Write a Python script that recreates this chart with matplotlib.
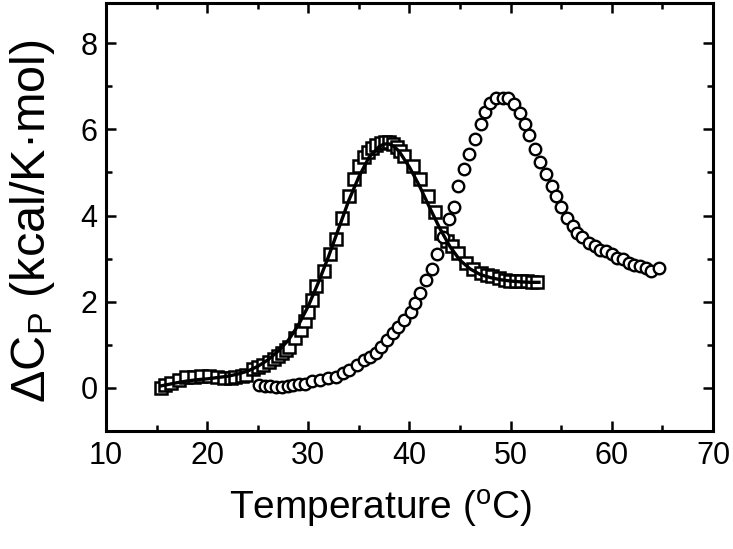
import matplotlib
matplotlib.use("Agg")
import matplotlib.pyplot as plt
from matplotlib.ticker import MultipleLocator

plt.rcParams['font.family'] = ['Liberation Sans', 'DejaVu Sans']
plt.rcParams['mathtext.fontset'] = 'custom'
plt.rcParams['mathtext.rm'] = 'Liberation Sans'
plt.rcParams['mathtext.it'] = 'Liberation Sans:italic'

# Squares (data set 1)
sq_T = [15.45, 15.8, 16.4, 17.2, 17.9, 18.7, 19.4, 20.2, 21.0, 21.7, 22.4, 22.8, 23.4, 23.8,
        24.5, 25.0, 25.5, 26.1, 26.6, 27.0, 27.4, 27.8, 28.1, 28.7, 29.3, 29.7, 30.0, 30.4,
        30.8, 31.55, 32.1, 32.7, 33.3, 34.0, 34.5, 35.0, 35.5, 35.9, 36.3, 36.7, 37.2,
        37.6, 38.0, 38.4, 38.75, 39.1, 39.5, 40.3, 41.0, 41.8, 42.5, 43.1, 43.7, 44.2,
        44.8, 45.6, 46.3, 47.1, 47.7, 48.2, 48.8, 49.4, 49.9, 50.5, 51.0, 51.6, 52.1, 52.6]
sq_Cp = [0.00, 0.06, 0.12, 0.18, 0.26, 0.26, 0.27, 0.27, 0.26, 0.23, 0.24, 0.26, 0.28, 0.30,
         0.43, 0.48, 0.53, 0.60, 0.68, 0.74, 0.80, 0.88, 0.96, 1.15, 1.35, 1.55, 1.77, 2.05,
         2.36, 2.71, 3.10, 3.45, 3.95, 4.46, 4.85, 5.16, 5.35, 5.47, 5.56, 5.63, 5.68,
         5.70, 5.70, 5.66, 5.59, 5.50, 5.39, 5.16, 4.85, 4.46, 4.07, 3.60, 3.40, 3.30,
         3.14, 2.90, 2.75, 2.67, 2.62, 2.59, 2.55, 2.51, 2.49, 2.47, 2.47, 2.47, 2.46, 2.45]

# Fitted curve for data set 1
fit_T = [15.5, 17.0, 18.0, 19.0, 20.0, 21.0, 22.0, 23.0, 24.0, 25.0, 26.0, 27.0, 28.0,
         29.0, 30.0, 31.0, 32.0, 33.0, 34.0, 35.0, 36.0, 37.0, 37.5, 38.0, 38.5, 39.0,
         40.0, 41.0, 42.0, 43.0, 44.0, 45.0, 46.0, 47.0, 48.0, 49.0, 50.0, 51.0, 52.0, 52.8]
fit_Cp = [0.05, 0.12, 0.16, 0.19, 0.21, 0.24, 0.27, 0.32, 0.39, 0.50, 0.65, 0.85, 1.10,
          1.45, 1.90, 2.45, 3.05, 3.70, 4.35, 4.90, 5.35, 5.60, 5.66, 5.66, 5.60, 5.48,
          5.12, 4.68, 4.18, 3.70, 3.28, 2.96, 2.76, 2.63, 2.56, 2.51, 2.48, 2.46, 2.45, 2.45]

# Circles (data set 2)
ci_T = [25.1, 25.7, 26.25, 26.8, 27.4, 28.0, 28.5, 29.1, 29.7, 30.4, 31.2, 31.9, 32.7,
        33.4, 34.0, 34.8, 35.5, 36.1, 36.7, 37.2, 37.8, 38.4, 38.9, 39.5, 40.1, 40.5,
        41.0, 41.6, 42.2, 42.7, 43.3, 43.9, 44.4, 44.8, 45.4, 45.9, 46.5, 47.1, 47.5,
        48.0, 48.6, 49.2, 49.7, 50.3, 50.9, 51.4, 51.8, 52.4, 52.9, 53.5, 54.1, 54.5,
        55.0, 55.6, 56.2, 56.6, 57.1, 57.7, 58.3, 58.8, 59.4, 60.0, 60.5, 61.1, 61.7,
        62.2, 62.8, 63.4, 63.9, 64.7]
ci_Cp = [0.06, 0.05, 0.04, 0.02, 0.02, 0.04, 0.06, 0.08, 0.10, 0.16, 0.19, 0.22, 0.26,
         0.35, 0.41, 0.53, 0.65, 0.72, 0.80, 0.96, 1.11, 1.27, 1.42, 1.58, 1.77, 1.97,
         2.20, 2.51, 2.75, 3.10, 3.49, 3.91, 4.19, 4.69, 5.08, 5.43, 5.78, 6.13, 6.40,
         6.60, 6.73, 6.73, 6.72, 6.58, 6.37, 6.13, 5.86, 5.55, 5.24, 4.96, 4.69, 4.46,
         4.19, 3.95, 3.76, 3.60, 3.49, 3.37, 3.29, 3.21, 3.18, 3.10, 3.02, 2.98, 2.90,
         2.86, 2.82, 2.79, 2.71, 2.79]

x_ticks = [10, 20, 30, 40, 50, 60, 70]
y_ticks = [0, 2, 4, 6, 8]

fig = plt.figure(figsize=(7.33, 5.49), dpi=100)
ax = fig.add_axes([0.1446, 0.2149, 0.8281, 0.7796])

ax.plot(sq_T, sq_Cp, linestyle='none', marker='s', markersize=8.0,
        markerfacecolor='white', markeredgecolor='black', markeredgewidth=1.8, zorder=2)
ax.plot(ci_T, ci_Cp, linestyle='none', marker='o', markersize=8.3,
        markerfacecolor='white', markeredgecolor='black', markeredgewidth=1.7, zorder=2)
ax.plot(fit_T, fit_Cp, color='black', linewidth=2.4, zorder=3)

ax.set_xlim(10, 70)
ax.set_ylim(-1, 8.93)
ax.set_xticks(x_ticks)
ax.set_yticks(y_ticks)
ax.xaxis.set_minor_locator(MultipleLocator(5))
ax.yaxis.set_minor_locator(MultipleLocator(1))
ax.tick_params(which='both', direction='in', top=True, right=True, width=1.8,
               labelsize=22)
ax.tick_params(axis='x', which='both', pad=7.5)
ax.tick_params(axis='y', which='both', pad=6)
ax.tick_params(which='major', length=7)
ax.tick_params(which='minor', length=4)
for s in ax.spines.values():
    s.set_linewidth(2.2)

ax.set_xlabel(r'Temperature ($^\mathrm{o}$C)', fontsize=28)
ax.xaxis.set_label_coords(0.453, -0.133)
ax.set_ylabel(r'ΔC$_\mathrm{P}$ (kcal/K·mol)', fontsize=35)
ax.yaxis.set_label_coords(-0.08, 0.49)

fig.savefig('out.png', dpi=100)
